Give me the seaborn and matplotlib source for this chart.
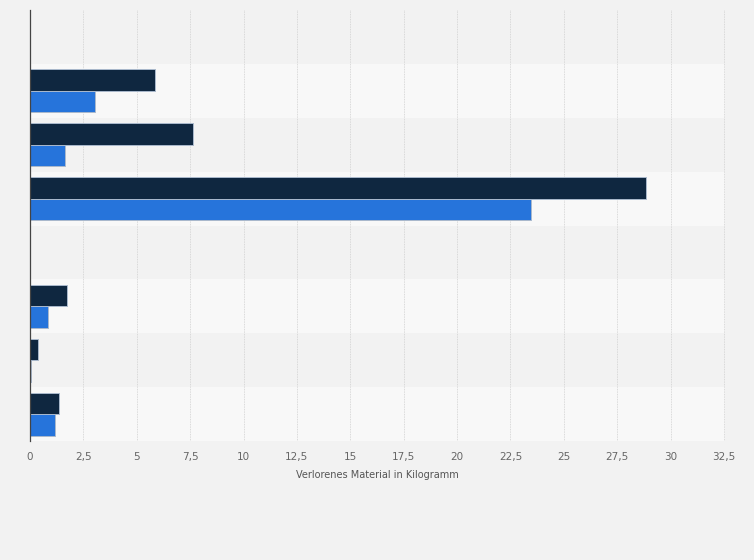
import numpy as np
import pandas as pd
import matplotlib
matplotlib.use("Agg")
import matplotlib.pyplot as plt
from matplotlib.ticker import FuncFormatter, MultipleLocator
import seaborn as sns

# rows top to bottom (no labels shown in the chart)
categories = ["A", "B", "C", "D", "E", "F", "G", "H"]
series_names = ["Serie 1", "Serie 2"]
series_dark = [np.nan, 5.85, 7.63, 28.87, np.nan, 1.74, 0.38, 1.37]
series_blue = [np.nan, 3.04, 1.64, 23.48, np.nan, 0.84, 0.05, 1.17]
palette = ["#0f2740", "#2674db"]

df = pd.DataFrame({
    "kategorie": categories * 2,
    "serie": [series_names[0]] * len(categories) + [series_names[1]] * len(categories),
    "wert": series_dark + series_blue,
})

sns.set_style("white")
plt.rcParams["font.family"] = ["DejaVu Sans"]

fig = plt.figure(figsize=(7.54, 5.6), dpi=100, facecolor="#f2f2f2")
ax = fig.add_axes([30 / 754, 1 - 441 / 560, 695 / 754, 431 / 560])
ax.set_facecolor("#f2f2f2")

# alternating row bands
for i in range(len(categories)):
    col = "#f2f2f2" if i % 2 == 0 else "#f8f8f8"
    ax.axhspan(i - 0.5, i + 0.5, color=col, zorder=0, lw=0)

sns.barplot(data=df, y="kategorie", x="wert", hue="serie", order=categories,
            hue_order=series_names, palette=palette, saturation=1, orient="h",
            width=0.8, edgecolor="#aab9cc", linewidth=0.7, legend=False, ax=ax,
            zorder=3)

ax.set_xlim(0, 32.55)
ax.set_ylim(len(categories) - 0.5, -0.5)
ax.xaxis.set_major_locator(MultipleLocator(2.5))
ax.xaxis.set_major_formatter(FuncFormatter(lambda v, p: f"{v:g}".replace(".", ",")))
ax.grid(axis="x", color="#cfcfcf", linestyle=(0, (1, 1)), linewidth=0.6)
for line in ax.get_xgridlines():
    line.set_zorder(1)

ax.set_yticks([])
ax.set_ylabel("")
ax.set_xlabel("Verlorenes Material in Kilogramm", fontsize=7, color="#555555", labelpad=6)
ax.tick_params(axis="x", length=0, labelsize=7.5, labelcolor="#666666", pad=8)

for s in ["top", "right", "bottom"]:
    ax.spines[s].set_visible(False)
ax.spines["left"].set_color("#444444")
ax.spines["left"].set_linewidth(0.9)
ax.spines["left"].set_zorder(5)

fig.savefig("out.png", dpi=100, facecolor=fig.get_facecolor())
plt.close(fig)
